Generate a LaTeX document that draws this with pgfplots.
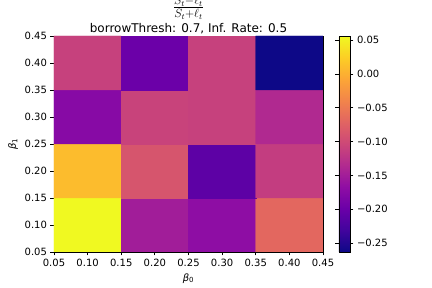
\documentclass[border=0pt]{standalone}
\usepackage{fontspec}
\setmainfont{DejaVu Sans}
\usepackage{pgfplots}
\pgfplotsset{compat=1.18}

\pgfplotsset{
  colormap={plasma}{
    rgb255=(13,8,135) rgb255=(65,4,157) rgb255=(106,0,168)
    rgb255=(143,13,164) rgb255=(177,42,144) rgb255=(204,71,120)
    rgb255=(225,100,98) rgb255=(242,132,75) rgb255=(252,166,54)
    rgb255=(252,206,37) rgb255=(240,249,33)
  }
}

\begin{document}
\begin{tikzpicture}
\begin{axis}[
    name=hm,
    scale only axis,
    width=269pt, height=216pt,
    xmin=0.05, xmax=0.45, ymin=0.05, ymax=0.45,
    xtick={0.05,0.10,...,0.46}, ytick={0.05,0.10,...,0.46},
    xticklabels={0.05,0.10,0.15,0.20,0.25,0.30,0.35,0.40,0.45},
    yticklabels={0.05,0.10,0.15,0.20,0.25,0.30,0.35,0.40,0.45},
    tick label style={font=\fontsize{10}{12}\selectfont},
    tick align=outside, tick pos=left,
    major tick length=3.5pt,
    every tick/.style={black, line width=0.8pt},
    axis line style={black, line width=0.8pt},
    xlabel={\textit{β}\textsubscript{0}},
    ylabel={\textit{β}\textsubscript{1}},
    label style={font=\fontsize{10}{12}\selectfont},
    title={borrowThresh: 0.7, Inf. Rate: 0.5},
    title style={font=\fontsize{12}{14}\selectfont, at={(0.5,1)}, anchor=base, yshift=-3pt},
    colormap name=plasma,
    colorbar,
    colorbar style={
      at={(1.0595,1)}, anchor=north west,
      width=11pt, height=216pt,
      ytick={-0.25,-0.20,...,0.06},
      yticklabels={−0.25,−0.20,−0.15,−0.10,−0.05,0.00,0.05},
      yticklabel style={font=\fontsize{10}{12}\selectfont},
      tick align=outside,
      major tick length=3.5pt,
      axis line style={black, line width=0.8pt},
    },
]
\addplot[matrix plot*, mesh/cols=4, point meta=explicit] table[meta=c] {
x    y    c
0.1  0.1  0.056
0.2  0.1  -0.150
0.3  0.1  -0.168
0.4  0.1  -0.068
0.1  0.2  0.010
0.2  0.2  -0.088
0.3  0.2  -0.209
0.4  0.2  -0.114
0.1  0.3  -0.174
0.2  0.3  -0.108
0.3  0.3  -0.110
0.4  0.3  -0.136
0.1  0.4  -0.110
0.2  0.4  -0.198
0.3  0.4  -0.110
0.4  0.4  -0.263
};
\end{axis}
\node[font=\fontsize{17}{20}\selectfont, inner sep=0pt] at ([yshift=28pt]hm.north)
  {$\frac{S_t-\ell_t}{S_t+\ell_t}$};
\pgfresetboundingbox
\path[use as bounding box] (-54pt,-36pt) rectangle (378pt,252pt);
\end{tikzpicture}
\end{document}
